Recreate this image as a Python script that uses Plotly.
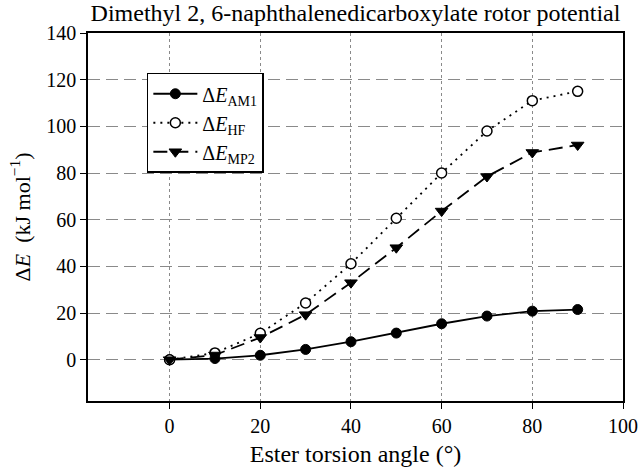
import plotly.graph_objects as go

angles = [0, 10, 20, 30, 40, 50, 60, 70, 80, 90]
e_am1 = [0.0, 0.5, 1.9, 4.4, 7.7, 11.4, 15.4, 18.7, 20.8, 21.5]
e_hf = [0.0, 2.9, 11.3, 24.3, 41.1, 60.6, 80.0, 98.0, 111.0, 115.0]
e_mp2 = [0.0, 2.0, 9.5, 19.3, 33.0, 48.0, 63.7, 78.5, 88.8, 92.0]

x_ticks = [0, 20, 40, 60, 80, 100]
y_ticks = [0, 20, 40, 60, 80, 100, 120, 140]

SERIF = "Liberation Serif, Times New Roman, serif"

fig = go.Figure()
fig.add_trace(go.Scatter(
    x=angles, y=e_am1, mode="lines+markers", name="Δ<i>E</i><sub>AM1</sub>",
    line=dict(color="black", width=1.8, dash="solid"),
    marker=dict(symbol="circle", size=10, color="black", line=dict(color="black", width=1))))
fig.add_trace(go.Scatter(
    x=angles, y=e_hf, mode="lines+markers", name="Δ<i>E</i><sub>HF</sub>",
    line=dict(color="black", width=1.8, dash="2px,5px"),
    marker=dict(symbol="circle", size=10, color="white", line=dict(color="black", width=1.5))))
fig.add_trace(go.Scatter(
    x=angles, y=e_mp2, mode="lines+markers", name="Δ<i>E</i><sub>MP2</sub>",
    line=dict(color="black", width=1.8, dash="14px,7px"),
    marker=dict(symbol="triangle-down", size=11, color="black", line=dict(color="black", width=1))))

fig.update_layout(
    width=640, height=467,
    margin=dict(l=88, r=17, t=33, b=66, autoexpand=False),
    paper_bgcolor="white", plot_bgcolor="white",
    font=dict(family=SERIF, size=20, color="black"),
    title=dict(text="Dimethyl 2, 6-naphthalenedicarboxylate rotor potential",
               xref="paper", x=0.5, xanchor="center", y=0.973, yanchor="middle",
               font=dict(family=SERIF, size=24, color="black")),
    showlegend=True,
    legend=dict(x=0.11, y=0.892, xanchor="left", yanchor="top",
                bgcolor="white", bordercolor="black", borderwidth=1.5,
                font=dict(family=SERIF, size=20, color="black"),
                tracegroupgap=0, itemwidth=44),
    xaxis=dict(range=[-18, 100], tickvals=x_ticks, ticks="outside", ticklen=6,
               tickcolor="black", showline=True, linecolor="black", linewidth=1.5,
               mirror=True, showgrid=True, gridcolor="#8a8a8a", gridwidth=1,
               griddash="dot", zeroline=False, automargin=False,
               title=dict(text="Ester torsion angle (°)", font=dict(size=24), standoff=12)),
    yaxis=dict(range=[-17.7, 140], tickvals=y_ticks, ticks="outside", ticklen=6,
               tickcolor="black", showline=True, linecolor="black", linewidth=1.5,
               mirror=True, showgrid=True, gridcolor="#8a8a8a", gridwidth=1,
               griddash="12px,6px", zeroline=False, automargin=False,
               title=dict(text="Δ<i>E</i>  (kJ mol<sup>−1</sup>)", font=dict(size=22), standoff=10)),
    xaxis2=dict(overlaying="x", side="top", matches="x", range=[-18, 100],
                tickvals=x_ticks, ticks="inside", ticklen=5, tickcolor="black",
                showticklabels=False, showgrid=False, zeroline=False, showline=False),
)

fig.write_html("out.html")
